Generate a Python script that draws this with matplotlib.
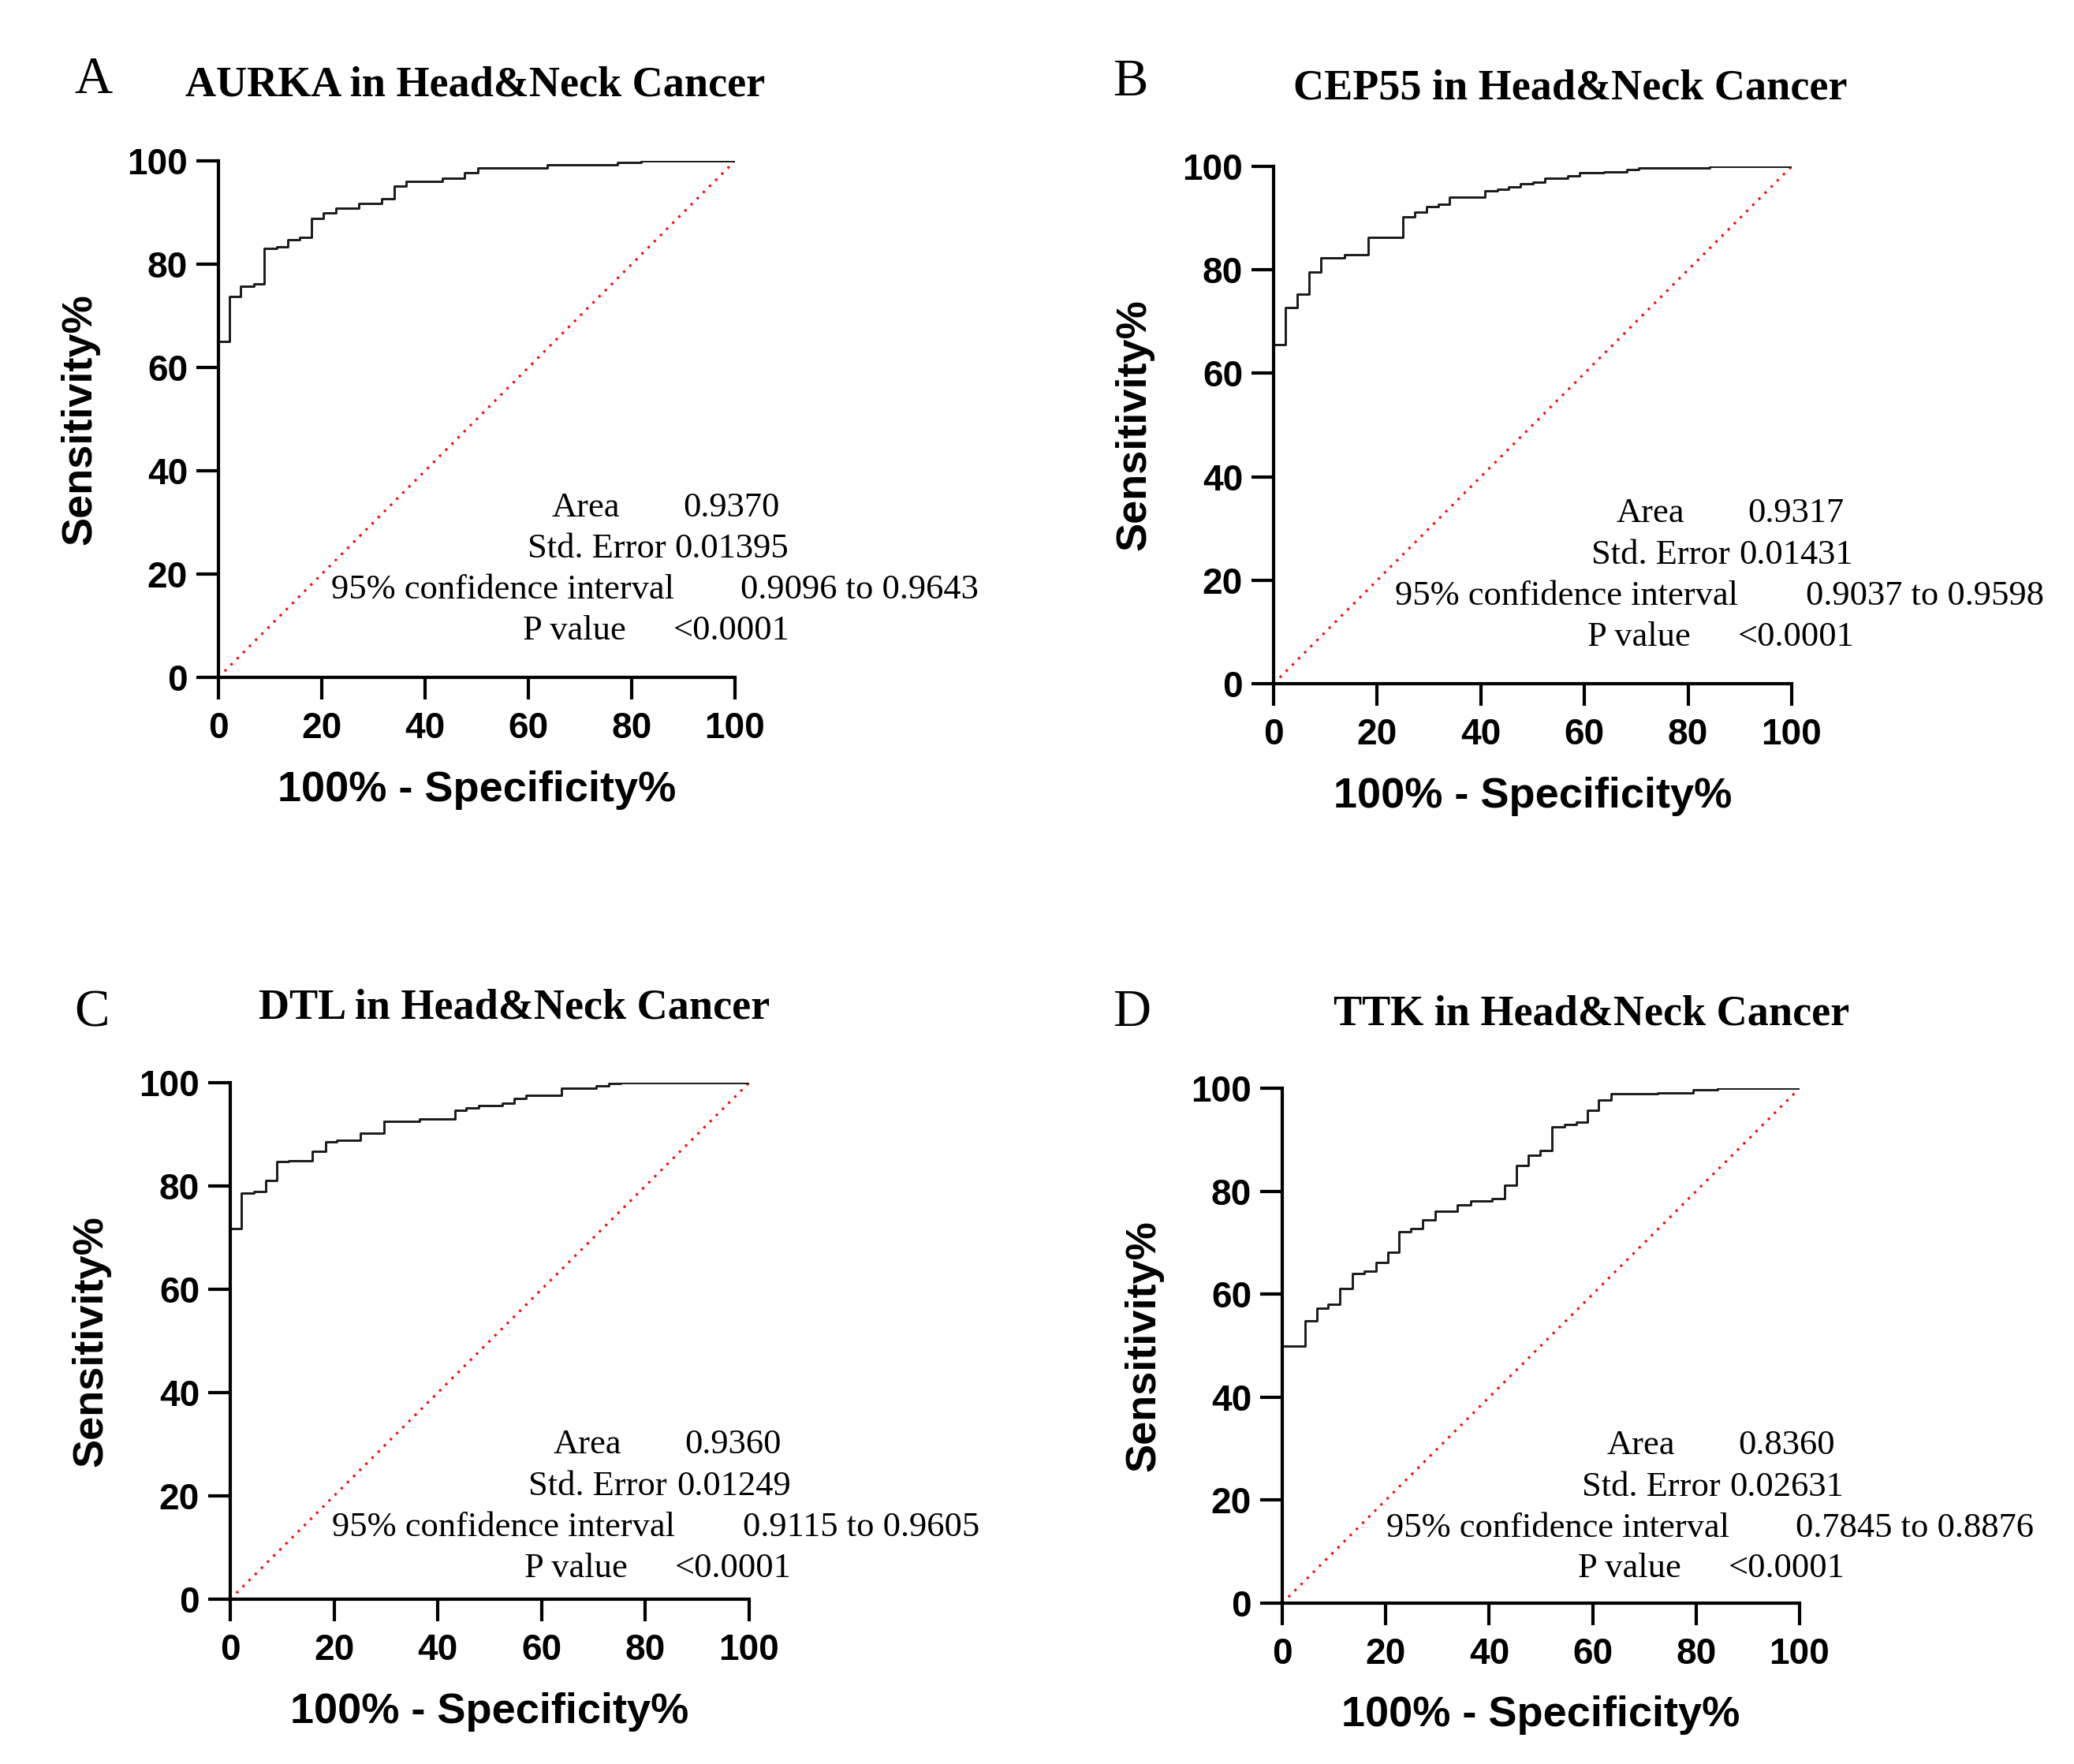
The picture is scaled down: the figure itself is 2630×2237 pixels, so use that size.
import numpy as np
import matplotlib.pyplot as plt

# ROC step curves (100% - specificity, sensitivity)
genes = ['AURKA', 'CEP55', 'DTL', 'TTK']
letters = ['A', 'B', 'C', 'D']

fpr_aurka = [0, 0, 2.1, 4.3, 6.9, 8.8, 11.3, 13.5, 15.8, 18.0, 20.3, 22.7, 27.1,
             31.6, 34.0, 36.4, 43.3, 47.6, 50.2, 63.6, 77.3, 81.8, 100]
tpr_aurka = [0, 65, 73.7, 75.8, 76.2, 83.1, 83.4, 84.7, 85.2, 88.8, 89.9, 90.9, 91.7,
             92.7, 95.1, 96.0, 96.6, 97.7, 98.6, 99.3, 99.7, 100, 100]

fpr_cep55 = [0, 0, 2.3, 4.6, 6.8, 9.1, 13.7, 18.2, 25.0, 27.2, 29.5, 31.8, 34.0,
             40.8, 43.2, 45.4, 47.7, 50.0, 52.3, 56.8, 59.1, 63.7, 68.2, 70.5, 84.2, 100]
tpr_cep55 = [0, 65.5, 72.7, 75.3, 79.6, 82.3, 83.0, 86.3, 90.2, 91.2, 92.2, 92.7, 94.0,
             95.3, 95.6, 96.1, 96.7, 97.0, 97.7, 98.2, 98.8, 99.0, 99.4, 99.7, 100, 100]

fpr_dtl = [0, 0, 2.2, 4.5, 6.8, 9.0, 11.3, 15.8, 18.4, 20.5, 25.0, 29.6, 36.4,
           43.3, 45.5, 47.8, 52.4, 54.7, 57.0, 63.8, 70.5, 72.9, 75.2, 100]
tpr_dtl = [0, 71.7, 78.7, 78.9, 81.1, 84.7, 84.9, 86.7, 88.6, 88.8, 90.2, 92.5, 93.0,
           94.6, 95.1, 95.6, 96.1, 96.9, 97.6, 99.0, 99.4, 99.8, 100, 100]

fpr_ttk = [0, 0, 4.4, 6.7, 8.9, 11.1, 13.5, 15.8, 18.1, 20.4, 22.6, 24.8, 27.2, 29.5,
           33.9, 36.4, 40.6, 43.0, 45.3, 47.6, 49.9, 52.2, 54.5, 56.8, 59.0, 61.2,
           63.6, 72.5, 79.4, 84.2, 100]
tpr_ttk = [0, 50.0, 54.9, 57.3, 58.1, 61.1, 64.0, 64.5, 66.1, 68.1, 72.2, 72.8, 74.4, 76.1,
           77.4, 78.1, 78.6, 81.1, 85.0, 87.0, 87.9, 92.5, 92.9, 93.4, 95.7, 97.7,
           98.9, 99.1, 99.7, 100, 100]

areas = ['0.9370', '0.9317', '0.9360', '0.8360']
std_errors = ['0.01395', '0.01431', '0.01249', '0.02631']
ci_ranges = ['0.9096 to 0.9643', '0.9037 to 0.9598', '0.9115 to 0.9605', '0.7845 to 0.8876']
p_values = ['<0.0001', '<0.0001', '<0.0001', '<0.0001']

ticks = [0, 20, 40, 60, 80, 100]

fprs = [fpr_aurka, fpr_cep55, fpr_dtl, fpr_ttk]
tprs = [tpr_aurka, tpr_cep55, tpr_dtl, tpr_ttk]

W, H = 2630, 2237
fig = plt.figure(figsize=(W / 100, H / 100), dpi=100)

# axes boxes in pixels: left, top, right, bottom
boxes = [(277, 204, 932, 859), (1615, 211, 2272, 867),
         (292, 1373, 950, 2028), (1626, 1380, 2282, 2033)]
title_pos = [(603, 121), (1991, 125), (652, 1291), (2018, 1300)]
letter_pos = [(94, 118), (1411, 121), (94, 1301), (1411, 1301)]
text_shift = [(0, 0), (1.6, 0), (-2.3, -3), (-1.8, -2.3)]

sans = ['Liberation Sans', 'DejaVu Sans']
serif = ['Liberation Serif', 'DejaVu Serif']

for i in range(4):
    l, t, r, b = boxes[i]
    ax = fig.add_axes([l / W, 1 - b / H, (r - l) / W, (b - t) / H])

    ax.plot([0, 100], [0, 100], color='red', lw=2.2, linestyle=(0, (1, 2.6)))
    ax.plot(fprs[i], tprs[i], drawstyle='steps-post', color='#1a1a1a', lw=2.1)

    ax.set_xlim(0, 100)
    ax.set_ylim(0, 100)
    ax.set_xticks(ticks)
    ax.set_yticks(ticks)
    ax.spines['top'].set_visible(False)
    ax.spines['right'].set_visible(False)
    for s in ['left', 'bottom']:
        ax.spines[s].set_linewidth(3.0)
    ax.tick_params(width=3.0, length=20, direction='out')
    ax.tick_params(axis='x', pad=11)
    ax.tick_params(axis='y', pad=8)
    for lab in ax.get_xticklabels() + ax.get_yticklabels():
        lab.set_family(sans)
        lab.set_fontweight('bold')
        lab.set_fontsize(33)

    ax.set_xlabel('100% - Specificity%', family=sans, fontweight='bold', fontsize=39, va='center')
    ax.set_ylabel('Sensitivity%', family=sans, fontweight='bold', fontsize=39, va='center')
    ax.xaxis.set_label_coords(0.5, -0.218)
    ax.yaxis.set_label_coords(-0.268, 0.5)

    dx, dy = text_shift[i]
    kw = dict(family=serif, fontsize=32, va='baseline', ha='left')
    ax.text(64.5 + dx, 31.2 + dy, 'Area', **kw)
    ax.text(89.9 + dx, 31.2 + dy, areas[i], **kw)
    ax.text(59.8 + dx, 23.2 + dy, 'Std. Error', **kw)
    ax.text(88.3 + dx, 23.2 + dy, std_errors[i], **kw)
    ax.text(21.9 + dx, 15.2 + dy, '95% confidence interval', **kw)
    ax.text(101.1 + dx, 15.2 + dy, ci_ranges[i], clip_on=False, **kw)
    ax.text(59.0 + dx, 7.3 + dy, 'P value', **kw)
    ax.text(88.0 + dx, 7.3 + dy, p_values[i], **kw)

    tx, ty = title_pos[i]
    fig.text(tx / W, 1 - ty / H, genes[i] + ' in Head&Neck Cancer', family=serif,
             fontweight='bold', fontsize=39, ha='center', va='baseline')
    lx, ly = letter_pos[i]
    fig.text(lx / W, 1 - ly / H, letters[i], family=serif, fontsize=48,
             ha='left', va='baseline')

fig.savefig('out.png', dpi=100, facecolor='white')
